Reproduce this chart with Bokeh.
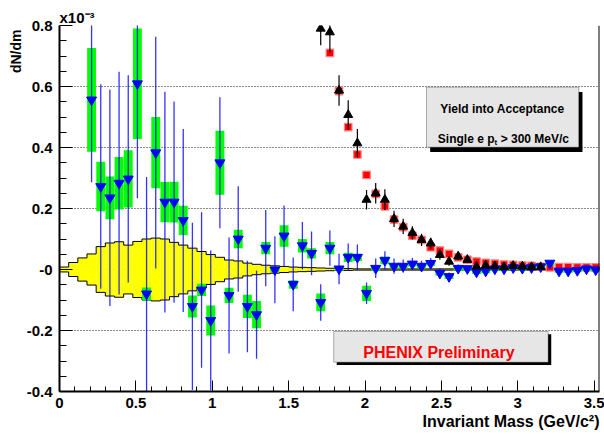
import numpy as np
from bokeh.plotting import figure
from bokeh.models import Range1d, FixedTicker, BoxAnnotation, Label, Span, Title
from bokeh.embed import file_html
from bokeh.resources import INLINE

# ---------------- data ----------------
band_bin_width = 0.06
band_half = [0.008, 0.023, 0.038, 0.051, 0.075, 0.087, 0.091, 0.080, 0.092, 0.100,
             0.103, 0.100, 0.089, 0.080, 0.070, 0.059, 0.049, 0.040, 0.031, 0.028,
             0.021, 0.017, 0.014, 0.012, 0.010, 0.008, 0.007, 0.006, 0.005, 0.004,
             0.003, 0.003, 0.002, 0.002, 0.002, 0.002, 0.002, 0.002, 0.002, 0.002,
             0.002, 0.002, 0.002, 0.002, 0.002, 0.002, 0.002, 0.002, 0.002, 0.002,
             0.002, 0.002, 0.002, 0.002, 0.002, 0.002, 0.002, 0.002, 0.002]

blue_mass = [0.21, 0.27, 0.33, 0.39, 0.45, 0.51, 0.57, 0.63, 0.69, 0.75,
             0.81, 0.87, 0.93, 0.99, 1.05, 1.11, 1.17, 1.23, 1.29, 1.35,
             1.41, 1.47, 1.53, 1.59, 1.65, 1.71, 1.77, 1.83, 1.89, 1.95,
             2.01, 2.07, 2.13, 2.19, 2.25, 2.31, 2.37, 2.43, 2.49, 2.55,
             2.61, 2.67, 2.73, 2.79, 2.85, 2.91, 2.97, 3.03, 3.09, 3.15,
             3.21, 3.27, 3.33, 3.39, 3.45, 3.51]
blue_yield = [0.556, 0.272, 0.235, 0.283, 0.297, 0.609, -0.080, 0.383, 0.221, 0.221,
              0.161, -0.121, -0.067, -0.167, 0.350, -0.085, 0.100, -0.121, -0.148, 0.070,
              -0.001, 0.110, -0.049, 0.078, 0.053, -0.108, 0.070, 0.002, 0.040, 0.040,
              -0.078, 0.004, 0.030, 0.011, 0.011, 0.018, 0.011, 0.020, -0.012, -0.023,
              0.004, 0.003, -0.008, -0.005, 0.002, 0.002, 0.006, 0.004, 0.006, 0.009,
              0.021, -0.005, -0.005, -0.003, 0.002, -0.001]
blue_stat = [0.270, 0.335, 0.355, 0.365, 0.340, 0.375, 0.383, 0.380, 0.362, 0.330,
             0.300, 0.274, 0.255, 0.229, 0.215, 0.190, 0.173, 0.150, 0.145, 0.125,
             0.110, 0.100, 0.088, 0.078, 0.072, 0.060, 0.058, 0.050, 0.045, 0.042,
             0.035, 0.032, 0.030, 0.025, 0.022, 0.020, 0.018, 0.018, 0.015, 0.013,
             0.012, 0.010, 0.010, 0.010, 0.010, 0.009, 0.009, 0.008, 0.008, 0.008,
             0.008, 0.007, 0.007, 0.007, 0.007, 0.007]
blue_sys = [0.170, 0.081, 0.070, 0.086, 0.094, 0.181, 0.021, 0.117, 0.066, 0.067,
            0.048, 0.036, 0.020, 0.049, 0.105, 0.025, 0.030, 0.038, 0.045, 0.020,
            0.008, 0.035, 0.014, 0.022, 0.017, 0.029, 0.020, 0.006, 0.015, 0.012,
            0.025, 0.008, 0.013, 0.008, 0.008, 0.008, 0.008, 0.008, 0.008, 0.008,
            0.008, 0.007, 0.007, 0.007, 0.007, 0.007, 0.007, 0.007, 0.007, 0.007,
            0.008, 0.006, 0.006, 0.006, 0.006, 0.006]

black_mass = [1.71, 1.77, 1.83, 1.89, 1.95, 2.01, 2.07, 2.13, 2.19, 2.25,
              2.31, 2.37, 2.43, 2.49, 2.55, 2.61, 2.67, 2.73, 2.79, 2.85,
              2.91, 2.97, 3.03, 3.09, 3.15]
black_yield = [0.790, 0.778, 0.587, 0.507, 0.414, 0.229, 0.250, 0.229, 0.166, 0.141,
               0.120, 0.097, 0.086, 0.048, 0.026, 0.043, 0.032, 0.010, 0.013, 0.011,
               0.008, 0.012, 0.010, 0.008, 0.008]
black_stat = [0.055, 0.068, 0.050, 0.048, 0.047, 0.032, 0.034, 0.034, 0.027, 0.025,
              0.022, 0.020, 0.018, 0.016, 0.014, 0.012, 0.011, 0.010, 0.010, 0.009,
              0.008, 0.008, 0.007, 0.007, 0.007]

red_mass = [1.77, 1.83, 1.89, 1.95, 2.01, 2.07, 2.13, 2.19, 2.25, 2.31,
            2.37, 2.43, 2.49, 2.55, 2.61, 2.67, 2.73, 2.79, 2.85, 2.91,
            2.97, 3.03, 3.09, 3.15, 3.21, 3.27, 3.33, 3.39, 3.45, 3.51]
red_yield = [0.710, 0.585, 0.467, 0.377, 0.310, 0.248, 0.207, 0.164, 0.139, 0.111,
             0.097, 0.073, 0.062, 0.051, 0.040, 0.032, 0.026, 0.022, 0.019, 0.016,
             0.015, 0.013, 0.012, 0.009, 0.007, 0.008, 0.008, 0.007, 0.007, 0.007]

xticks = [0, 0.5, 1, 1.5, 2, 2.5, 3, 3.5]
xtick_labels = ["0", "0.5", "1", "1.5", "2", "2.5", "3", "3.5"]
xminor = [0.1, 0.2, 0.3, 0.4, 0.6, 0.7, 0.8, 0.9, 1.1, 1.2, 1.3, 1.4, 1.6, 1.7, 1.8, 1.9,
          2.1, 2.2, 2.3, 2.4, 2.6, 2.7, 2.8, 2.9, 3.1, 3.2, 3.3, 3.4]
yticks = [-0.4, -0.2, 0, 0.2, 0.4, 0.6, 0.8]
ytick_labels = ["-0.4", "-0.2", "-0", "0.2", "0.4", "0.6", "0.8"]
yminor = [-0.35, -0.3, -0.25, -0.15, -0.1, -0.05, 0.05, 0.1, 0.15, 0.25, 0.3, 0.35,
          0.45, 0.5, 0.55, 0.65, 0.7, 0.75]

X_MAX = 3.535

# ---------------- figure ----------------
p = figure(width=604, height=434, output_backend="svg", toolbar_location=None,
           x_range=Range1d(0, X_MAX), y_range=Range1d(-0.4, 0.8),
           min_border_left=59, min_border_right=5, min_border_top=25, min_border_bottom=43)
p.outline_line_color = None
p.background_fill_color = "white"
p.border_fill_color = "white"

FONT = "Liberation Sans"
for ax in (p.xaxis, p.yaxis):
    ax.axis_line_width = 2
    ax.axis_line_color = "black"
    ax.major_tick_line_color = "black"
    ax.minor_tick_line_color = "black"
    ax.major_tick_out = 0
    ax.minor_tick_out = 0
    ax.major_label_text_font = FONT
    ax.major_label_text_font_style = "bold"
    ax.major_label_text_font_size = "15px"
    ax.major_label_text_color = "black"

p.xaxis.ticker = FixedTicker(ticks=xticks, minor_ticks=xminor)
p.xaxis.major_label_overrides = {float(t): l for t, l in zip(xticks, xtick_labels)}
p.xaxis.major_tick_in = 11
p.xaxis.minor_tick_in = 5
p.xaxis.major_label_standoff = 6

p.yaxis.ticker = FixedTicker(ticks=yticks, minor_ticks=yminor)
p.yaxis.major_label_overrides = {float(t): l for t, l in zip(yticks, ytick_labels)}
p.yaxis.major_tick_in = 13
p.yaxis.minor_tick_in = 7
p.yaxis.major_label_standoff = 7

p.xgrid.grid_line_color = None
p.ygrid.grid_line_color = "black"
p.ygrid.grid_line_alpha = 0.9
p.ygrid.grid_line_dash = "1 2"
p.ygrid.grid_line_width = 1

# right border
p.add_layout(Span(location=X_MAX, dimension="height", line_color="black", line_width=2))

# ---------------- band ----------------
half = np.array(band_half)
edges = np.arange(len(band_half) + 1) * band_bin_width
p.quad(left=edges[:-1], right=edges[1:], top=half, bottom=-half,
       fill_color="#ffff00", line_color=None)
step_y = np.append(half, half[-1])
p.step(x=edges, y=step_y, mode="after", line_color="black", line_width=1)
p.step(x=edges, y=-step_y, mode="after", line_color="black", line_width=1)

# ---------------- red squares ----------------
p.scatter(red_mass, red_yield, marker="square", size=7.5,
          fill_color="#ff0000", line_color="#ff8080", line_width=1.2)

# ---------------- blue with systematic boxes ----------------
bm = np.array(blue_mass)
by = np.array(blue_yield)
bst = np.array(blue_stat)
bsy = np.array(blue_sys)
p.quad(left=bm - 0.029, right=bm + 0.029, top=by + bsy, bottom=by - bsy,
       fill_color="#00ff00", line_color=None)
p.segment(x0=bm, y0=by - bst, x1=bm, y1=by + bst, line_color="#0000ff",
          line_width=1.3, line_alpha=0.8)
p.scatter(bm, by, marker="inverted_triangle", size=10,
          fill_color="#0000ff", line_color="#0000ff")

# ---------------- black triangles ----------------
km = np.array(black_mass)
ky = np.array(black_yield)
kst = np.array(black_stat)
p.segment(x0=km, y0=ky - kst, x1=km, y1=ky + kst, line_color="black", line_width=1.2)
p.scatter(km, ky, marker="triangle", size=9, fill_color="black", line_color="black")

# ---------------- text boxes ----------------
p.add_layout(BoxAnnotation(left=2.4025 + 0.024, right=3.3995 + 0.024,
                           top=0.5977 - 0.016, bottom=0.401 - 0.016,
                           fill_color="black", fill_alpha=1, line_color=None))
p.add_layout(BoxAnnotation(left=2.4025, right=3.3995, top=0.5977, bottom=0.401,
                           fill_color="#e6e6e6", fill_alpha=1,
                           line_color="black", line_width=1))
p.add_layout(Label(x=2.90, y=0.527, text="Yield into Acceptance", text_align="center",
                   text_baseline="alphabetic", text_font=FONT, text_font_style="bold",
                   text_font_size="12px", text_color="black"))
p.add_layout(Label(x=2.4765, y=0.4285, text="Single e p", text_align="left",
                   text_baseline="alphabetic", text_font=FONT, text_font_style="bold",
                   text_font_size="12px", text_color="black"))
p.add_layout(Label(x=2.8476, y=0.417, text="t", text_align="left",
                   text_baseline="alphabetic", text_font=FONT, text_font_style="bold",
                   text_font_size="8px", text_color="black"))
p.add_layout(Label(x=2.888, y=0.4285, text="> 300 MeV/c", text_align="left",
                   text_baseline="alphabetic", text_font=FONT, text_font_style="bold",
                   text_font_size="12px", text_color="black"))

p.add_layout(BoxAnnotation(left=1.795 + 0.02, right=3.199 + 0.02,
                           top=-0.203 - 0.009, bottom=-0.304 - 0.009,
                           fill_color="black", fill_alpha=1, line_color=None))
p.add_layout(BoxAnnotation(left=1.795, right=3.199, top=-0.203, bottom=-0.304,
                           fill_color="#e6e6e6", fill_alpha=1,
                           line_color="black", line_width=1))
p.add_layout(Label(x=2.484, y=-0.273, text="PHENIX Preliminary", text_align="center",
                   text_baseline="alphabetic", text_font=FONT, text_font_style="bold",
                   text_font_size="16px", text_color="#ff0000"))

# ---------------- axis titles (outside the frame) ----------------
p.add_layout(Title(text="Invariant Mass (GeV/c\u00b2)", align="right", standoff=0,
                   text_font=FONT, text_font_style="bold", text_font_size="16px",
                   text_color="black"), "below")
p.add_layout(Title(text="dN/dm", align="right", standoff=0, offset=4,
                   text_font=FONT, text_font_style="bold", text_font_size="14px",
                   text_color="black"), "left")
p.add_layout(Title(text="x10\u207b\u00b3", align="left", standoff=0,
                   text_font=FONT, text_font_style="bold", text_font_size="15px",
                   text_color="black"), "above")

open("out.html", "w").write(file_html(p, INLINE))
